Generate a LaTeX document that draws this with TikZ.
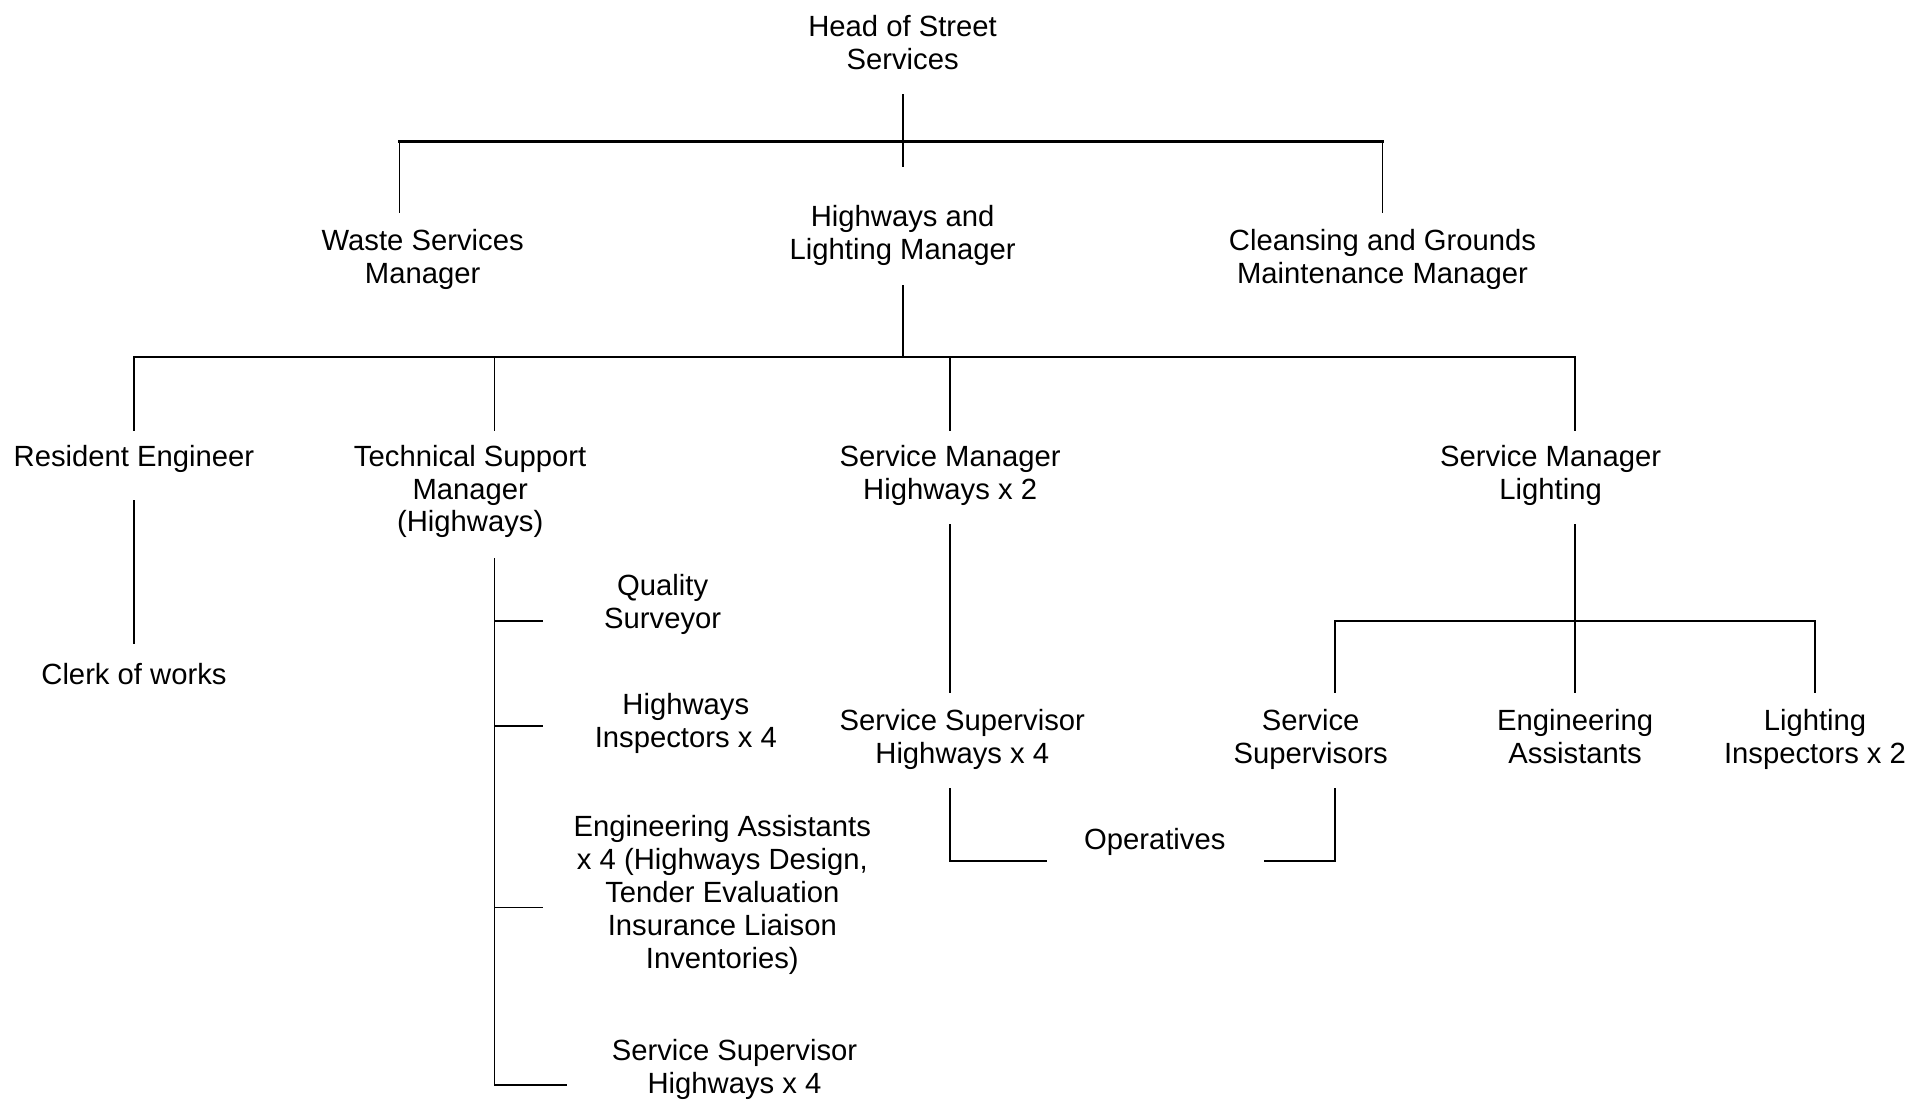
\documentclass[tikz,border=0pt]{standalone}
\usepackage{fontspec}
\setmainfont{Liberation Sans}
\begin{document}
\begin{tikzpicture}[x=1pt,y=-1pt,
  lbl/.style={align=center, inner sep=0pt, yshift=-1.5pt, font=\fontsize{24}{27}\selectfont},
  link/.style={line width=1.5pt, line cap=rect},
  bar/.style={line width=2pt, line cap=rect}]
\useasboundingbox (0,0) rectangle (1568,905);

% ---- job titles ----
\node[lbl] (head)  at (741,33.5)  {Head of Street\\Services};
\node[lbl] (waste) at (347,211.5) {Waste Services\\Manager};
\node[lbl] (hlm)   at (741,191.5) {Highways and\\Lighting Manager};
\node[lbl] (clean) at (1135,211.5) {Cleansing and Grounds\\Maintenance Manager};

\node[lbl] (res)   at (110,375)   {Resident Engineer};
\node[lbl] (tech)  at (386,402)   {Technical Support\\Manager\\(Highways)};
\node[lbl] (smh)   at (780,388.5) {Service Manager\\Highways x 2};
\node[lbl] (sml)   at (1273,388.5) {Service Manager\\Lighting};

\node[lbl] (clerk) at (110,552)   {Clerk of works};
\node[lbl] (qs)    at (544,494.5) {Quality\\Surveyor};
\node[lbl] (hi)    at (563,592.5) {Highways\\Inspectors x 4};
\node[lbl] (ea)    at (593,733)   {Engineering Assistants\\x 4 (Highways Design,\\Tender Evaluation\\Insurance Liaison\\Inventories)};
\node[lbl] (sshA)  at (603,876.5) {Service Supervisor\\Highways x 4};

\node[lbl] (sshB)  at (790,605.5) {Service Supervisor\\Highways x 4};
\node[lbl] (ops)   at (948,690)   {Operatives};
\node[lbl] (ss)    at (1076,605.5) {Service\\Supervisors};
\node[lbl] (eng)   at (1293,603.5) {Engineering\\Assistants};
\node[lbl] (li)    at (1490,605.5) {Lighting\\Inspectors x 2};

% ---- connector end points ----
\coordinate (headB)  at (741,78);
\coordinate (j1)     at (741,116);
\coordinate (headE)  at (741,136);
\coordinate (j1L)    at (328,116);
\coordinate (j1R)    at (1135,116);
\coordinate (wasteT) at (328,174);
\coordinate (cleanT) at (1135,174);

\coordinate (hlmB)   at (741,235);
\coordinate (j2)     at (741,293);
\coordinate (j2a)    at (110,293);
\coordinate (j2b)    at (406,293);
\coordinate (j2c)    at (780,293);
\coordinate (j2d)    at (1293,293);
\coordinate (resT)   at (110,353);
\coordinate (techT)  at (406,353);
\coordinate (smhT)   at (780,353);
\coordinate (smlT)   at (1293,353);

\coordinate (resB)   at (110,411);
\coordinate (clerkT) at (110,528);

\coordinate (techB)  at (406,459);
\coordinate (t1)     at (406,510);
\coordinate (t2)     at (406,596);
\coordinate (t3)     at (406,745);
\coordinate (t4)     at (406,891);
\coordinate (qsL)    at (445,510);
\coordinate (hiL)    at (445,596);
\coordinate (eaL)    at (445,745);
\coordinate (sshAL)  at (465,891);

\coordinate (smhB)   at (780,431);
\coordinate (sshBT)  at (780,568);
\coordinate (sshBB)  at (780,648);
\coordinate (opsL)   at (859,707);
\coordinate (opsR)   at (1038,707);
\coordinate (ssB)    at (1096,648);

\coordinate (smlB)   at (1293,431);
\coordinate (j3)     at (1293,510);
\coordinate (j3L)    at (1096,510);
\coordinate (j3R)    at (1490,510);
\coordinate (ssT)    at (1096,568);
\coordinate (engT)   at (1293,568);
\coordinate (liT)    at (1490,568);

% ---- head of service level ----
\draw[link] (headB) -- (headE);
\draw[bar]  (j1L) -- (j1R);
\draw[link] (j1L) -- (wasteT);
\draw[link] (j1R) -- (cleanT);

% ---- highways and lighting ----
\draw[link] (hlmB) -- (j2);
\draw[bar]  (j2a) -- (j2d);
\draw[link] (j2a) -- (resT);
\draw[link] (j2b) -- (techT);
\draw[link] (j2c) -- (smhT);
\draw[link] (j2d) -- (smlT);

% ---- resident engineer ----
\draw[link] (resB) -- (clerkT);

% ---- technical support ----
\draw[link] (techB) -- (t4);
\draw[link] (t1) -- (qsL);
\draw[link] (t2) -- (hiL);
\draw[link] (t3) -- (eaL);
\draw[link] (t4) -- (sshAL);

% ---- highways service ----
\draw[link] (smhB) -- (sshBT);
\draw[link] (sshBB) |- (opsL);
\draw[link] (ssB) |- (opsR);

% ---- lighting service ----
\draw[link] (smlB) -- (engT);
\draw[bar]  (j3L) -- (j3R);
\draw[link] (j3L) -- (ssT);
\draw[link] (j3R) -- (liT);
\end{tikzpicture}
\end{document}
